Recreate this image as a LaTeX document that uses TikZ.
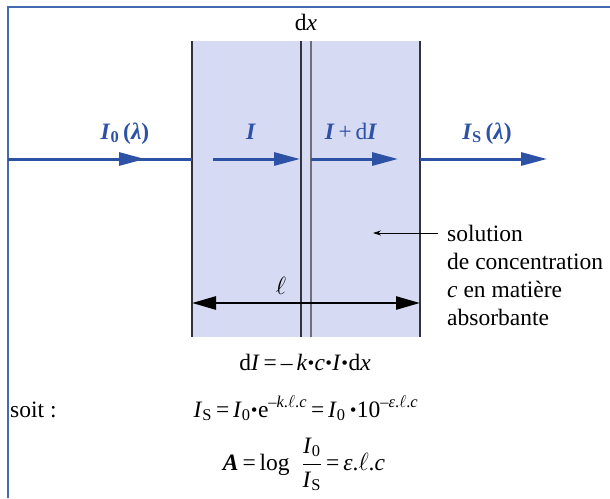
\documentclass[tikz,border=0pt]{standalone}
\usepackage{fontspec}
\setmainfont{Liberation Serif}
\usetikzlibrary{arrows.meta}
\definecolor{frameblue}{RGB}{70,105,180}
\definecolor{beamblue}{RGB}{45,82,165}
\definecolor{cellfill}{RGB}{214,218,243}
\definecolor{edgegray}{RGB}{50,50,60}
\newcommand\It[1]{\textit{#1}}
\newcommand\bI{\textbf{\textit{I}}}
\newcommand\bdot{\kern0.8pt\raisebox{0.15ex}{\scalebox{0.7}{\textbf{\textbullet}}}\kern0.8pt}
\tikzset{
  beam/.style={beamblue, line width=3pt},
  beamtip/.style={beam, -{Triangle[length=26pt,width=13pt]}},
  lbl/.style={text=beamblue, anchor=base, inner sep=0pt},
  txt/.style={anchor=base, inner sep=0pt},
  edgeline/.style={edgegray, line width=1.1pt},
}
\begin{document}
\begin{tikzpicture}[x=1pt,y=-1pt,font=\fontsize{23.5}{28}\selectfont]
\useasboundingbox (0,0) rectangle (610,498);
% frame
\draw[frameblue, line width=1.6pt] (8,498) -- (8,7) -- (610,7);
% cell
\fill[cellfill] (192,41) rectangle (420,337);
\coordinate (bl) at (192,159);
\coordinate (br) at (420,159);
\draw[edgeline] (192,41) -- (192,337);
\draw[edgeline] (420,41) -- (420,337);
\draw[edgeline] (301,41) -- (301,337);
\draw[edgeline, edgegray!70] (311,41) -- (311,337);
% beams
\coordinate (src) at (8,159);
\coordinate (a1) at (145,159);
\coordinate (i1s) at (213,159);
\coordinate (i1e) at (300,159);
\coordinate (i2s) at (311,159);
\coordinate (i2e) at (398,159);
\coordinate (oute) at (547,159);
\draw[beam] (src) -- (bl);
\draw[beamtip] (src) -- (a1);
\draw[beamtip] (i1s) -- (i1e);
\draw[beamtip] (i2s) -- (i2e);
\draw[beamtip] (br) -- (oute);
% beam labels
\node[lbl] (lI0) at (125,139) {\bI\textsubscript{\textbf{0}}\,\textbf{(\textit{λ})}};
\node[lbl] (lI) at (251,139) {\bI};
\node[lbl] (lIdI) at (351,139) {\bI\,+\,d\bI};
\node[lbl] (lIS) at (487,139) {\bI\textsubscript{\textbf{S}}\,\textbf{(\textit{λ})}};
% dx
\node[txt] (dx) at (306,30) {d\It{x}};
% length
\coordinate (ll) at (192,303);
\coordinate (lr) at (420,303);
\draw[line width=2.6pt, {Triangle[length=24pt,width=13pt]}-{Triangle[length=24pt,width=13pt]}] (ll) -- (lr);
\node[txt] (ell) at (281,294) {$\ell$};
% solution pointer
\coordinate (ps) at (438,233);
\coordinate (pe) at (373,233);
\draw[line width=0.8pt, -{Stealth[length=8pt,width=5pt]}] (ps) -- (pe);
\node[anchor=base west, inner sep=0pt, align=left] (sol) at (447,325)
  {solution\\de concentration\\\It{c} en matière\\absorbante};
% equations
\node[txt] (eq1) at (305,370) {d\It{I}\,=\,–\,\It{k}\bdot\It{c}\bdot\It{I}\bdot d\It{x}};
\node[anchor=base west, inner sep=0pt] (soit) at (10,417) {soit :};
\node[txt] (eq2) at (306,417) {\It{I}\textsubscript{S}\,=\,\It{I}\textsubscript{0}\bdot e\textsuperscript{–\It{k}.$\ell$.\It{c}}\,=\,\It{I}\textsubscript{0}\,\bdot10\textsuperscript{–\It{ε}.$\ell$.\It{c}}};
\node[txt] (eq3) at (304,470) {\textbf{\textit{A}}\,=\,log\ \ \ensuremath{\displaystyle\frac{\mbox{\It{I}\textsubscript{0}}}{\mbox{\It{I}\textsubscript{S}}}}\,=\,\It{ε}.$\ell$.\It{c}};
\end{tikzpicture}
\end{document}
